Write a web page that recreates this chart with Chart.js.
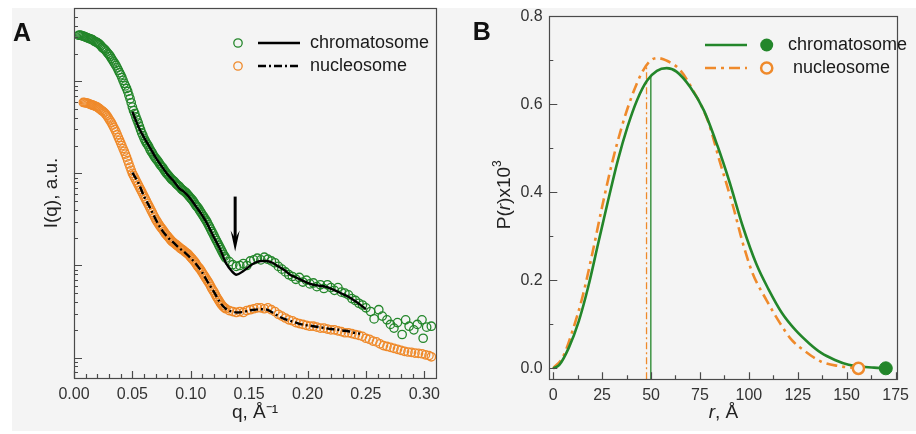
<!DOCTYPE html>
<html><head><meta charset="utf-8">
<script src="https://cdn.jsdelivr.net/npm/chart.js@4.4.0/dist/chart.umd.min.js"></script>
<style>
html,body{margin:0;padding:0;background:#fff;width:916px;height:434px;overflow:hidden}
#bg{position:absolute;left:12px;top:8px;width:904px;height:423px;background:#f4f4f4}
#wa{position:absolute;left:0;top:0;width:458px;height:434px}
#wb{position:absolute;left:458px;top:0;width:458px;height:434px}
</style></head><body>
<div id="bg"></div>
<div id="wa"><canvas id="ca" width="458" height="434"></canvas></div>
<div id="wb"><canvas id="cb" width="458" height="434"></canvas></div>
<script>
// ---------- Panel A : SAXS curves ----------
const chromQ = [0.004,0.005,0.006,0.007,0.008,0.009,0.010,0.011,0.012,0.013,0.014,0.015,0.016,0.017,0.018,0.019,0.020,0.021,0.022,0.023,0.024,0.025,0.026,0.027,0.028,0.029,0.030,0.031,0.032,0.033,0.034,0.035,0.036,0.037,0.038,0.039,0.040,0.041,0.042,0.043,0.044,0.045,0.046,0.047,0.048,0.049,0.050,0.051,0.052,0.053,0.054,0.055,0.056,0.057,0.058,0.059,0.060,0.061,0.062,0.063,0.064,0.065,0.066,0.067,0.068,0.069,0.070,0.071,0.072,0.073,0.074,0.075,0.076,0.077,0.078,0.079,0.080,0.081,0.082,0.083,0.084,0.085,0.086,0.087,0.088,0.089,0.090,0.091,0.092,0.093,0.094,0.095,0.096,0.097,0.098,0.099,0.100,0.101,0.102,0.103,0.104,0.105,0.106,0.107,0.108,0.109,0.110,0.111,0.112,0.113,0.114,0.115,0.116,0.117,0.118,0.119,0.120,0.121,0.122,0.123,0.124,0.125,0.126,0.127,0.128,0.129,0.130,
  0.133,0.136,0.139,0.142,0.145,0.148,0.151,0.154,0.157,0.160,0.163,0.166,0.169,0.172,0.175,0.178,0.181,0.184,0.187,0.190,0.193,0.196,0.199,0.202,0.205,0.208,0.211,0.214,0.217,0.220,0.223,0.226,0.229,0.232,0.235,0.238,0.241,0.244,0.247,0.250,
  0.254,0.257,0.261,0.264,0.268,0.271,0.274,0.277,0.281,0.284,0.287,0.291,0.294,0.298,0.299,0.302,0.306];
const chromI = [3162,3170,3150,3110,3090,3050,3020,2990,2951,2910,2884,2860,2818,2750,2692,2670,2630,2570,2512,2440,2344,2280,2239,2170,2089,2010,1950,1870,1778,1700,1622,1550,1479,1400,1318,1240,1175,1100,1023,950,891,835,776,705,646,585,525,480,447,410,380,352,324,298,275,258,240,226,214,205,195,183,174,167,158,151,145,140,135,129,123,119,115,110,105,101,97.7,94.5,91.2,88,85.1,83.5,81.3,78.5,75.9,74,72.4,70,67.6,66,64.6,63,61.7,59.5,57.5,55.5,53.7,52,50.1,48,45.7,44,42.7,40.8,38.9,37.2,35.5,34,32.4,31,29.5,27.8,26.3,24.8,23.4,22.2,20.9,19.7,18.6,17.6,16.6,15.7,14.8,14.0,13.2,12.6,12.0,
  11.0,10.2,9.77,10.0,10.5,10.0,11.2,11.5,12.0,11.5,12.3,11.7,11.2,10.7,9.77,9.12,8.51,7.94,7.59,7.08,7.41,6.61,6.92,6.31,6.46,5.89,6.17,5.62,6.17,5.75,5.37,5.75,5.13,5.01,4.79,4.37,4.17,3.89,3.72,3.47,
  3.16,2.63,3.31,2.82,2.57,2.29,2.09,2.40,1.78,2.57,2.19,2.00,2.29,2.57,1.62,2.14,2.19];
const nuclQ = [0.008,0.009,0.010,0.011,0.012,0.013,0.014,0.015,0.016,0.017,0.018,0.019,0.020,0.021,0.022,0.023,0.024,0.025,0.026,0.027,0.028,0.029,0.030,0.031,0.032,0.033,0.034,0.035,0.036,0.037,0.038,0.039,0.040,0.041,0.042,0.043,0.044,0.045,0.046,0.047,0.048,0.049,0.050,0.051,0.052,0.053,0.054,0.055,0.056,0.057,0.058,0.059,0.060,0.061,0.062,0.063,0.064,0.065,0.066,0.067,0.068,0.069,0.070,0.071,0.072,0.073,0.074,0.075,0.076,0.077,0.078,0.079,0.080,0.081,0.082,0.083,0.084,0.085,0.086,0.087,0.088,0.089,0.090,0.091,0.092,0.093,0.094,0.095,0.096,0.097,0.098,0.099,0.100,0.101,0.102,0.103,0.104,0.105,0.106,0.107,0.108,0.109,0.110,0.111,0.112,0.113,0.114,0.115,0.116,0.117,0.118,0.119,0.120,0.121,0.122,0.123,0.124,0.125,0.126,0.127,0.128,0.129,0.130,
  0.133,0.136,0.139,0.142,0.145,0.148,0.151,0.154,0.157,0.160,0.163,0.166,0.169,0.172,0.175,0.178,0.181,0.184,0.187,0.190,0.193,0.196,0.199,0.202,0.205,0.208,0.211,0.214,0.217,0.220,0.223,0.226,0.229,0.232,0.235,0.238,0.241,0.244,0.247,0.250,
  0.253,0.256,0.259,0.262,0.265,0.268,0.271,0.274,0.277,0.280,0.283,0.286,0.289,0.292,0.295,0.298,0.301,0.304,0.306];
const nuclI = [589,588,585,580,575,569,562,556,550,544,537,531,525,513,501,490,479,468,457,442,427,408,389,372,355,335,316,299,282,263,245,229,214,200,186,174,162,150,138,127,117,108,100,94.5,89.1,84,79.4,75,70.8,66.8,63.1,59.6,56.2,53.1,50.1,47.3,44.7,42.2,39.8,37.6,35.5,33.5,31.6,30.2,28.8,27.5,26.3,25.4,24.5,23.4,22.4,21.6,20.9,20.2,19.5,18.8,18.2,17.8,17.4,17.0,16.6,16.2,15.8,15.4,15.1,14.8,14.5,14.1,13.8,13.5,13.2,12.7,12.3,11.9,11.5,11.1,10.7,10.2,9.77,9.44,9.12,8.71,8.32,7.94,7.59,7.24,6.92,6.61,6.31,5.95,5.62,5.37,5.13,4.84,4.57,4.37,4.17,3.98,3.80,3.67,3.55,3.47,3.39,
  3.24,3.16,3.09,3.16,3.09,3.24,3.31,3.39,3.47,3.47,3.39,3.47,3.31,3.16,2.95,2.82,2.69,2.57,2.51,2.40,2.34,2.29,2.24,2.19,2.19,2.14,2.09,2.09,2.04,2.00,2.00,1.95,1.91,1.86,1.86,1.82,1.78,1.74,1.70,1.62,
  1.58,1.51,1.48,1.41,1.35,1.32,1.29,1.26,1.23,1.20,1.17,1.15,1.14,1.12,1.11,1.10,1.07,1.05,1.02];
const chromFitQ = [0.050,0.055,0.060,0.065,0.070,0.075,0.080,0.085,0.090,0.095,0.100,0.105,0.110,0.115,0.120,0.125,0.130,0.135,0.139,0.145,0.150,0.155,0.160,0.165,0.170,0.175,0.180,0.185,0.190,0.195,0.200,0.205,0.210,0.215,0.220,0.225,0.230,0.235,0.240,0.245,0.250];
const chromFitI = [468,324,245,191,148,120,97.7,83.2,69.2,61.7,52.5,42.7,34.7,26.9,20.0,15.1,10.7,8.71,7.94,8.71,9.77,10.7,11.2,11.2,10.7,9.77,8.91,7.94,7.41,6.92,6.46,6.17,6.03,5.89,5.62,5.25,4.90,4.57,4.17,3.76,3.35];
const nuclFitQ = [0.050,0.055,0.060,0.065,0.070,0.075,0.080,0.085,0.090,0.095,0.100,0.105,0.110,0.115,0.120,0.125,0.130,0.135,0.140,0.145,0.150,0.155,0.160,0.165,0.170,0.175,0.180,0.185,0.190,0.195,0.200,0.205,0.210,0.215,0.220,0.225,0.230,0.235,0.240,0.245];
const nuclFitI = [102,79.4,56.2,42.7,31.6,24.5,20.4,17.8,15.5,13.8,12.0,10.2,8.32,6.46,5.13,3.98,3.39,3.16,3.09,3.13,3.24,3.31,3.35,3.31,3.09,2.82,2.63,2.51,2.40,2.29,2.24,2.19,2.14,2.09,2.04,2.02,1.97,1.93,1.86,1.82];
const arrowQ = 0.138;
const arrowI = [56, 14.2];   // tail, tip
const qTicks = [0,0.05,0.10,0.15,0.20,0.25,0.30];
const qMinor = [0.01,0.02,0.03,0.04,0.06,0.07,0.08,0.09,0.11,0.12,0.13,0.14,0.16,0.17,0.18,0.19,0.21,0.22,0.23,0.24,0.26,0.27,0.28,0.29];
const iMajor = [1,10,100,1000];
const iMinor = [0.6,0.7,0.8,0.9,2,3,4,5,6,7,8,9,20,30,40,50,60,70,80,90,200,300,400,500,600,700,800,900,2000,3000,4000,5000];

// ---------- Panel B : P(r) ----------
const chromR = [0,3,8,13,18,23,28,33,38,43,48,53,58,63,70,77,84,90,97,104,110,117,124,131,137,144,151,157,164,170];
const chromP = [0,0.007,0.047,0.106,0.187,0.284,0.380,0.472,0.549,0.611,0.654,0.676,0.682,0.674,0.639,0.586,0.505,0.425,0.321,0.235,0.180,0.125,0.086,0.056,0.035,0.019,0.008,0.004,0.0015,0];
const nuclR = [0,5,10,15,20,25,30,35,40,45,49,53,58,65,72,79,85,92,97,102,109,116,122,129,137,146,156];
const nuclP = [0,0.026,0.087,0.163,0.261,0.367,0.465,0.548,0.616,0.669,0.696,0.705,0.699,0.677,0.627,0.563,0.472,0.367,0.283,0.215,0.155,0.102,0.064,0.038,0.015,0.005,0];
const dmaxR = [170, 156];          // chromatosome, nucleosome
const peakLineR = [49.9, 47.7];    // chromatosome, nucleosome
const peakLineP = [0.665, 0.690];
const baseP = -0.025;
const rTicks = [0,25,50,75,100,125,150,175];
const rMinor = [12.5,37.5,62.5,87.5,112.5,137.5,162.5];
const pTicks = [0,0.2,0.4,0.6,0.8];
const pMinor = [0.1,0.3,0.5,0.7];

const GREEN = '#23862a', ORANGE = '#ef8a2b';
const FONT = "'Liberation Sans', Arial, Helvetica, sans-serif";
Chart.defaults.font.family = FONT;
Chart.defaults.color = '#333';

const xy = (xs, ys) => xs.map((v, i) => ({x: v, y: ys[i]}));

const boxTicks = {
  id: 'boxTicks',
  afterDraw(chart, args, o) {
    const {ctx, chartArea: a, scales: {x, y}} = chart;
    ctx.save();
    ctx.strokeStyle = '#4a4a4a';
    ctx.lineWidth = 1.2;
    ctx.beginPath();
    const hx = (v, len) => { const p = Math.round(x.getPixelForValue(v)) + 0.5; ctx.moveTo(p, a.bottom); ctx.lineTo(p, a.bottom - len); };
    const vy = (v, len) => { const p = Math.round(y.getPixelForValue(v)) + 0.5; ctx.moveTo(a.left, p); ctx.lineTo(a.left + len, p); };
    o.xMajor.forEach(v => hx(v, 7));
    o.xMinor.forEach(v => hx(v, 4));
    o.yMajor.forEach(v => vy(v, 8));
    o.yMinor.forEach(v => vy(v, 4));
    ctx.stroke();
    ctx.strokeRect(Math.round(a.left) + 0.5, Math.round(a.top) + 0.5, Math.round(a.right - a.left), Math.round(a.bottom - a.top));
    ctx.restore();
  }
};

function letter(ctx, t, x, y) {
  ctx.save();
  ctx.font = 'bold 25px ' + FONT;
  ctx.fillStyle = '#111';
  ctx.textBaseline = 'alphabetic';
  ctx.fillText(t, x, y);
  ctx.restore();
}

// draws a run of styled text pieces centred on (0,0) of the current transform
function richText(ctx, pieces) {
  let total = 0;
  pieces.forEach(p => { ctx.font = p.f; p.w = ctx.measureText(p.t).width; total += p.w; });
  let x = -total / 2;
  ctx.textBaseline = 'middle';
  ctx.textAlign = 'left';
  pieces.forEach(p => { ctx.font = p.f; ctx.fillText(p.t, x, p.dy || 0); x += p.w; });
}

const extrasA = {
  id: 'extrasA',
  afterDraw(chart) {
    const {ctx, scales: {x, y}} = chart;
    ctx.save();
    // arrow
    const ax = x.getPixelForValue(arrowQ), y0 = y.getPixelForValue(arrowI[0]), y1 = y.getPixelForValue(arrowI[1]);
    ctx.strokeStyle = '#000'; ctx.fillStyle = '#000'; ctx.lineWidth = 3;
    ctx.beginPath(); ctx.moveTo(ax, y0); ctx.lineTo(ax, y1 - 12); ctx.stroke();
    ctx.beginPath(); ctx.moveTo(ax - 4.5, y1 - 21); ctx.lineTo(ax, y1 - 13); ctx.lineTo(ax + 4.5, y1 - 21); ctx.lineTo(ax, y1); ctx.closePath(); ctx.fill();
    // legend
    const rows = [[43, GREEN, [], 'chromatosome'], [66, ORANGE, [8, 3, 2, 3], 'nucleosome']];
    rows.forEach(([ry, col, dash, txt]) => {
      ctx.setLineDash([]);
      ctx.lineWidth = 1.3; ctx.strokeStyle = col;
      ctx.beginPath(); ctx.arc(238, ry, 4.2, 0, Math.PI * 2); ctx.stroke();
      ctx.setLineDash(dash); ctx.lineWidth = 2.4; ctx.strokeStyle = '#000';
      ctx.beginPath(); ctx.moveTo(258, ry); ctx.lineTo(300, ry); ctx.stroke();
      ctx.setLineDash([]);
      ctx.fillStyle = '#1a1a1a'; ctx.font = '18px ' + FONT; ctx.textBaseline = 'middle';
      ctx.fillText(txt, 310, ry);
    });
    ctx.restore();
    letter(ctx, 'A', 13, 41);
  }
};

const extrasB = {
  id: 'extrasB',
  afterDraw(chart) {
    const {ctx, chartArea: a} = chart;
    ctx.save();
    const rows = [[45, GREEN, [], true, 'chromatosome', 330], [68, ORANGE, [11, 5, 3, 5], false, 'nucleosome', 335]];
    rows.forEach(([ry, col, dash, filled, txt, tx]) => {
      ctx.setLineDash(dash); ctx.lineWidth = 2.6; ctx.strokeStyle = col;
      ctx.beginPath(); ctx.moveTo(247, ry); ctx.lineTo(289, ry); ctx.stroke();
      ctx.setLineDash([]);
      ctx.beginPath(); ctx.arc(308.7, ry, filled ? 6.5 : 5.6, 0, Math.PI * 2);
      if (filled) { ctx.fillStyle = col; ctx.fill(); } else { ctx.lineWidth = 2.5; ctx.stroke(); }
      ctx.fillStyle = '#1a1a1a'; ctx.font = '18px ' + FONT; ctx.textBaseline = 'middle';
      ctx.fillText(txt, tx, ry);
    });
    // axis titles with italic r
    ctx.fillStyle = '#222';
    const N = '19px ' + FONT, I = 'italic 19px ' + FONT, S = '12px ' + FONT;
    ctx.save();
    ctx.translate((a.left + a.right) / 2, 413);
    richText(ctx, [{t: 'r', f: I}, {t: ', Å', f: N}]);
    ctx.restore();
    ctx.save();
    ctx.translate(47, (a.top + a.bottom) / 2 - 3);
    ctx.rotate(-Math.PI / 2);
    richText(ctx, [{t: 'P(', f: N}, {t: 'r', f: I}, {t: ')x10', f: N}, {t: '3', f: S, dy: -7}]);
    ctx.restore();
    ctx.restore();
    letter(ctx, 'B', 14.7, 39.5);
  }
};

const pointStyle = col => ({showLine: false, pointRadius: 4.2, pointBorderWidth: 1.3, borderColor: col, pointBorderColor: col, pointBackgroundColor: 'rgba(0,0,0,0)', backgroundColor: 'rgba(0,0,0,0)'});

new Chart(document.getElementById('ca'), {
  type: 'scatter',
  data: {datasets: [
    {label: 'chromatosome fit', data: xy(chromFitQ, chromFitI), showLine: true, borderColor: '#000', borderWidth: 2.4, pointRadius: 0, cubicInterpolationMode: 'monotone'},
    {label: 'nucleosome fit', data: xy(nuclFitQ, nuclFitI), showLine: true, borderColor: '#000', borderWidth: 2.4, borderDash: [8, 3, 2, 3], pointRadius: 0, cubicInterpolationMode: 'monotone'},
    Object.assign({label: 'chromatosome', data: xy(chromQ, chromI)}, pointStyle(GREEN)),
    Object.assign({label: 'nucleosome', data: xy(nuclQ, nuclI)}, pointStyle(ORANGE))
  ]},
  options: {
    responsive: false, animation: false, events: [],
    layout: {padding: {top: 8, right: 22, left: 0, bottom: 0}},
    plugins: {legend: {display: false}, tooltip: {enabled: false},
      boxTicks: {xMajor: qTicks, xMinor: qMinor, yMajor: iMajor, yMinor: iMinor}},
    scales: {
      x: {type: 'linear', min: 0, max: 0.31,
        grid: {display: false, drawTicks: false}, border: {display: false},
        ticks: {font: {size: 16}, padding: 7, color: '#333', callback: v => Number(v).toFixed(2)},
        afterBuildTicks: s => { s.ticks = qTicks.map(v => ({value: v})); },
        afterFit: s => { s.height = 56; },
        title: {display: true, text: 'q, Å⁻¹', font: {size: 19}, color: '#222', padding: {top: 0, bottom: 10}}},
      y: {type: 'logarithmic', min: 0.6, max: 6250,
        grid: {display: false, drawTicks: false}, border: {display: false},
        ticks: {display: false},
        afterFit: s => { s.width = 74; },
        title: {display: true, text: 'I(q), a.u.', font: {size: 19}, color: '#222', padding: {top: 40, bottom: 0}}}
    }
  },
  plugins: [boxTicks, extrasA]
});

new Chart(document.getElementById('cb'), {
  type: 'scatter',
  data: {datasets: [
    {label: 'chromatosome Dmax', data: [{x: dmaxR[0], y: 0}], pointRadius: 6.5, pointBackgroundColor: GREEN, pointBorderColor: GREEN, borderColor: GREEN, pointBorderWidth: 1},
    {label: 'nucleosome Dmax', data: [{x: dmaxR[1], y: 0}], pointRadius: 5.6, pointBackgroundColor: '#f4f4f4', pointBorderColor: ORANGE, borderColor: ORANGE, pointBorderWidth: 2.5},
    {label: 'chromatosome', data: xy(chromR, chromP), showLine: true, borderColor: GREEN, borderWidth: 2.6, pointRadius: 0, cubicInterpolationMode: 'monotone'},
    {label: 'nucleosome', data: xy(nuclR, nuclP), showLine: true, borderColor: ORANGE, borderWidth: 2.6, borderDash: [11, 5, 3, 5], pointRadius: 0, cubicInterpolationMode: 'monotone'},
    {label: 'chromatosome peak', data: [{x: peakLineR[0], y: baseP}, {x: peakLineR[0], y: peakLineP[0]}], showLine: true, borderColor: GREEN, borderWidth: 1.3, pointRadius: 0},
    {label: 'nucleosome peak', data: [{x: peakLineR[1], y: baseP}, {x: peakLineR[1], y: peakLineP[1]}], showLine: true, borderColor: ORANGE, borderWidth: 1.3, borderDash: [7, 3, 2, 3], pointRadius: 0}
  ]},
  options: {
    responsive: false, animation: false, events: [],
    layout: {padding: {top: 15.7, right: 12.7, left: 0, bottom: 0}},
    plugins: {legend: {display: false}, tooltip: {enabled: false},
      boxTicks: {xMajor: rTicks, xMinor: rMinor, yMajor: pTicks, yMinor: pMinor}},
    scales: {
      x: {type: 'linear', min: -2, max: 176,
        grid: {display: false, drawTicks: false}, border: {display: false},
        ticks: {font: {size: 16}, padding: 7, color: '#333', callback: v => String(v)},
        afterBuildTicks: s => { s.ticks = rTicks.map(v => ({value: v})); },
        afterFit: s => { s.height = 54.7; },
        title: {display: false, text: 'r, Å'}},
      y: {type: 'linear', min: -0.025, max: 0.8,
        grid: {display: false, drawTicks: false}, border: {display: false},
        ticks: {font: {size: 16}, padding: 6.6, color: '#333', callback: v => Number(v).toFixed(1)},
        afterBuildTicks: s => { s.ticks = pTicks.map(v => ({value: v})); },
        afterFit: s => { s.width = 91.3; },
        title: {display: false, text: 'P(r)x10³'}}
    }
  },
  plugins: [boxTicks, extrasB]
});
</script>
</body></html>
